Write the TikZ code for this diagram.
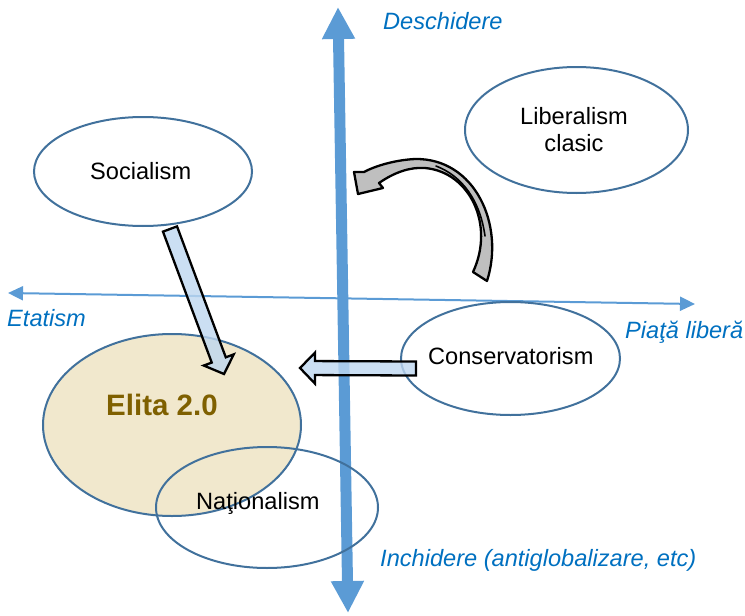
\documentclass[tikz,border=0pt]{standalone}
\usepackage{fontspec}
\setmainfont{Liberation Sans}
\usetikzlibrary{arrows.meta,calc,shapes.geometric}
\definecolor{axisblue}{HTML}{5B9BD5}
\definecolor{ellblue}{RGB}{65,113,156}
\definecolor{labblue}{HTML}{0070C0}
\definecolor{elitafill}{RGB}{239,229,200}
\definecolor{elitatext}{HTML}{7F6000}
\definecolor{arrfill}{RGB}{190,215,240}
\definecolor{curvegray}{HTML}{BFBFBF}
\newcommand{\blockarrow}[6]{%
  \coordinate (babase) at ($(#2)!#5!(#1)$);
  \draw[#6] ($(#1)!#3!90:(#2)$) -- ($(babase)!#3!90:(#2)$) -- ($(babase)!#4!90:(#2)$) -- (#2)
    -- ($(babase)!#4!-90:(#2)$) -- ($(babase)!#3!-90:(#2)$) -- ($(#1)!#3!-90:(#2)$) -- cycle;
}
\tikzset{
  ell/.style={ellipse, draw=ellblue, line width=2pt, inner sep=0pt},
  txt/.style={font=\fontsize{23.6}{27.4}\selectfont, inner sep=0pt},
  axlab/.style={font=\fontsize{23.6}{27.4}\selectfont\itshape, text=labblue, inner sep=0pt},
  blockarr/.style={draw=black, line width=2.3pt, line join=miter, fill=arrfill, fill opacity=0.8},
  curvearr/.style={draw=black, line width=2.3pt, line join=round, fill=curvegray},
}
\begin{document}
\begin{tikzpicture}[x=1pt,y=-1pt]
\useasboundingbox (0,0) rectangle (745,616);
% axes
\coordinate (vT) at (338,7);
\coordinate (vB) at (348,613);
\coordinate (hL) at (8,293);
\coordinate (hR) at (695,304);
\draw[axisblue, line width=2pt, {Triangle[length=15pt,width=14pt]}-{Triangle[length=15pt,width=14pt]}] (hL) -- (hR);
\draw[axisblue, line width=11pt, {Triangle[length=32pt,width=31pt]}-{Triangle[length=32pt,width=31pt]}] (vT) -- (vB);
% axis labels
\node[axlab, anchor=base west] (desc) at (383,29.3) {Deschidere};
\node[axlab, anchor=base west] (etat) at (7,326.5) {Etatism};
\node[axlab, anchor=base west] (piata) at (625,338) {Piaţă liberă};
\node[axlab, anchor=base west] (inch) at (380,566) {Inchidere (antiglobalizare, etc)};
% ellipses
\node[ell, minimum width=218pt, minimum height=109pt] (soc) at (143,171.5) {};
\node[ell, minimum width=223pt, minimum height=126pt] (lib) at (576.5,130) {};
\node[ell, minimum width=219pt, minimum height=113pt] (cons) at (510.5,358.5) {};
\node[ell, fill=elitafill, fill opacity=0.9, minimum width=258pt, minimum height=182pt] (elita) at (172,425) {};
\node[ell, minimum width=222pt, minimum height=121pt] (nat) at (267,507.5) {};
% texts
\node[txt, anchor=base west] (socT) at (90,179.5) {Socialism};
\node[txt, align=center] (libT) at (574,129.4) {Liberalism\\clasic};
\node[txt, anchor=base west] (consT) at (428,364.3) {Conservatorism};
\node[inner sep=0pt, anchor=center, text=elitatext, font=\fontsize{29.5}{34}\selectfont\bfseries] (elitaT) at (162,405) {Elita 2.0};
\node[txt, anchor=base west] (natT) at (196,509.3) {Naţionalism};
% block arrows
\coordinate (socTail) at (170,229);
\coordinate (socTip) at (224,374);
\coordinate (consTail) at (416,368.5);
\coordinate (consTip) at (300,368);
\blockarrow{socTail}{socTip}{7.5pt}{16pt}{15pt}{blockarr}
\blockarrow{consTail}{consTip}{7pt}{15.5pt}{15pt}{blockarr}
% curved arrow
\draw[curvearr] (473,272) -- (487,281) .. controls (505,225) and (475,158) .. (415,159)
  .. controls (395,160) and (375,166) .. (364,172) -- (354,172) -- (358,194) -- (383,188) -- (379,183)
  .. controls (395,172) and (410,167) .. (425,168)
  .. controls (470,172) and (495,225) .. (473,272) -- cycle;
\draw[black, line width=1.6pt, line cap=round] (436,166) .. controls (462,176) and (480,200) .. (485,236);
\end{tikzpicture}
\end{document}
